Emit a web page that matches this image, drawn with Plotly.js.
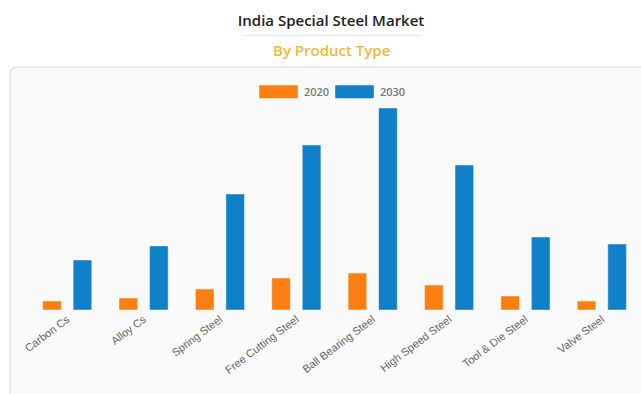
<!DOCTYPE html>
<html>
<head>
<meta charset="utf-8">
<script src="https://cdn.plot.ly/plotly-3.0.1.min.js"></script>
<style>html,body{margin:0;padding:0;background:#fff;}#chart{width:641px;height:394px;}</style>
</head>
<body>
<div id="chart"></div>
<script>
var categories = ["Carbon Cs", "Alloy Cs", "Spring Steel", "Free Cutting Steel", "Ball Bearing Steel", "High Speed Steel", "Tool & Die Steel", "Valve Steel"];
var seriesNames = ["2020", "2030"];
var values2020 = [9, 12, 21, 32, 37, 25, 14, 9];
var values2030 = [50, 64, 116, 165, 202, 145, 73, 66];
var seriesColors = ["#fd7f11", "#1080c8"];
var chartTitle = "India Special Steel Market";
var chartSubtitle = "By Product Type";

// pixel -> paper helpers (plot area: x 29..640, y 100..310)
var L = 29, R = 640, T = 100, B = 310;
function X(px) { return (px - L) / (R - L); }
function Y(py) { return (B - py) / (B - T); }

var traces = [values2020, values2030].map(function (vals, i) {
  return {
    type: "bar",
    name: seriesNames[i],
    x: categories,
    y: vals,
    marker: { color: seriesColors[i], line: { color: "rgba(255,255,255,0.45)", width: 1 } },
    hoverinfo: "x+y+name",
    showlegend: false
  };
});

var cardPath = "M" + X(10) + "," + Y(420) + " L" + X(10) + "," + Y(75) +
  " Q" + X(10) + "," + Y(67) + " " + X(18) + "," + Y(67) +
  " L" + X(660) + "," + Y(67) + " L" + X(660) + "," + Y(420) + " Z";

var shapes = [
  { type: "path", xref: "paper", yref: "paper", path: cardPath, fillcolor: "#fafafa",
    line: { color: "#e4e4e4", width: 1.5 }, layer: "below" },
  { type: "line", xref: "paper", yref: "paper", x0: X(243), x1: X(420), y0: Y(35.5), y1: Y(35.5),
    line: { color: "#e8e8e8", width: 1 } }
];
var annotations = [
  { xref: "paper", yref: "paper", x: X(331), y: Y(50.5), text: chartSubtitle, showarrow: false,
    xanchor: "center", yanchor: "middle",
    font: { family: "Open Sans", size: 15, color: "#f6b73c", weight: 600 } }
];
// manual legend with wide boxes
var legendBoxes = [[259, 298], [335, 374]];
seriesNames.forEach(function (n, i) {
  shapes.push({ type: "rect", xref: "paper", yref: "paper",
    x0: X(legendBoxes[i][0]), x1: X(legendBoxes[i][1]), y0: Y(98.5), y1: Y(85),
    fillcolor: seriesColors[i], line: { color: "rgba(255,255,255,0.45)", width: 1 } });
  annotations.push({ xref: "paper", yref: "paper", x: X(legendBoxes[i][1] + 4), y: Y(91.5),
    text: n, showarrow: false, xanchor: "left", yanchor: "middle",
    font: { family: "Open Sans", size: 11, color: "#777", weight: 600 } });
});

var layout = {
  width: 641, height: 394,
  margin: { l: L, r: 641 - R, t: T, b: 394 - B, pad: 0 },
  paper_bgcolor: "#ffffff",
  plot_bgcolor: "rgba(0,0,0,0)",
  title: { text: chartTitle, x: X(331), xref: "paper", xanchor: "center",
    y: 1 - 20.5 / 394, yref: "container", yanchor: "middle",
    font: { family: "Open Sans", size: 15, color: "#222", weight: 600 } },
  barmode: "group",
  bargap: 0.2,
  bargroupgap: 0.39,
  xaxis: { tickangle: -37, tickfont: { family: "Liberation Sans", size: 11, color: "#666" },
    showgrid: false, zeroline: false, showline: false, ticks: "", fixedrange: true },
  yaxis: { range: [0, 210], visible: false, showgrid: false, zeroline: false, fixedrange: true },
  shapes: shapes,
  annotations: annotations,
  showlegend: false
};

Plotly.newPlot("chart", traces, layout, { displayModeBar: false, staticPlot: false });
</script>
</body>
</html>
